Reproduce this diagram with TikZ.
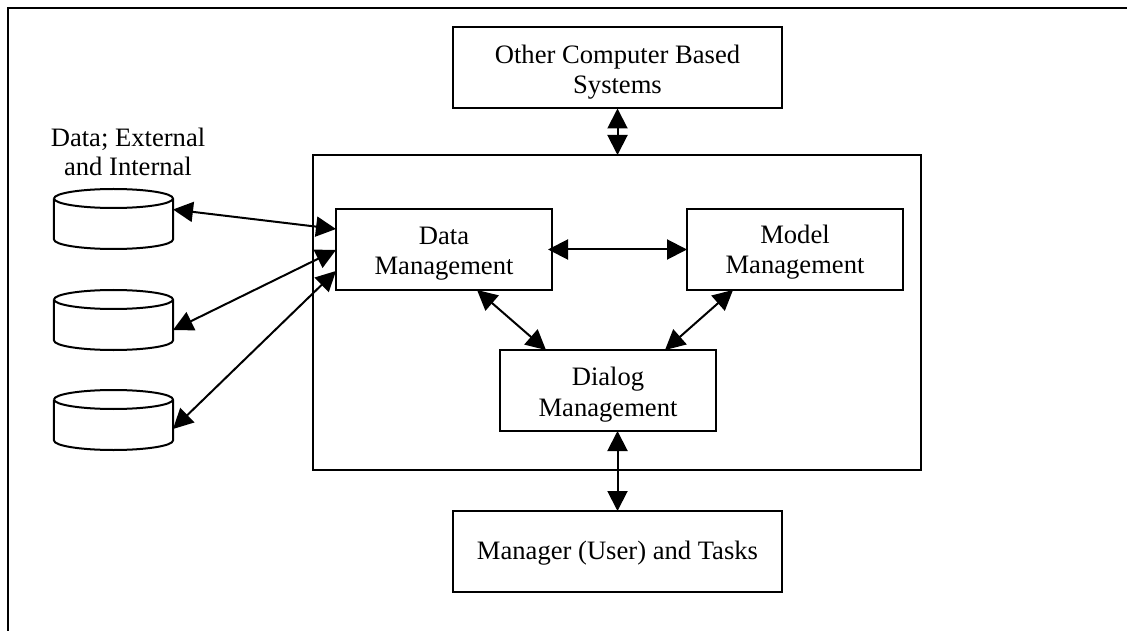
\documentclass[tikz,border=0pt]{standalone}
\usepackage{fontspec}
\setmainfont{Liberation Serif}
\usetikzlibrary{arrows.meta,calc}
\tikzset{
  boxnode/.style={draw=black,line width=2bp,fill=white,outer sep=0pt,inner sep=0pt,minimum width=#1,minimum height=81bp},
  boxnode/.default=216bp,
  boxtext/.style={align=center,inner sep=0pt,font=\fontsize{26.6bp}{30.6bp}\selectfont,yshift=-4bp},
  store/.style={outer sep=0pt,inner sep=0pt,minimum height=60bp,minimum width=119bp},
  storeline/.style={draw=black,line width=2bp,line join=round},
  link/.style={line width=2bp,{Triangle[length=20bp,width=20bp]}-{Triangle[length=20bp,width=20bp]}}
}
\begin{document}
\begin{tikzpicture}[x=1bp,y=-1bp]
\useasboundingbox (0,0) rectangle (1127,631);
\draw[line width=2bp,line cap=butt] (1127,8) -- (8,8) -- (8,631);
\node[boxnode=329bp,label={[boxtext]center:Other Computer Based\\Systems}] (other) at (617.5,68) {};
\node[draw=black,line width=2bp,outer sep=0pt,inner sep=0pt,minimum width=608bp,minimum height=315bp] (core) at (617,312.5) {};
\node[boxnode,label={[boxtext]center:Data\\Management}] (data) at (444,249.5) {};
\node[boxnode,label={[boxtext,yshift=1.5bp]center:Model\\Management}] (model) at (795,249.5) {};
\node[boxnode,label={[boxtext]center:Dialog\\Management}] (dialog) at (608,390.5) {};
\node[boxnode=329bp,label={[boxtext,yshift=2.5bp]center:Manager (User) and Tasks}] (manager) at (617.5,551.5) {};
\node[store] (s1) at (113.5,219) {};
\node[store] (s2) at (113.5,320) {};
\node[store] (s3) at (113.5,420) {};
\foreach \s in {s1,s2,s3}{
  \draw[storeline] ($(\s.north west)+(0,9.5)$) arc[start angle=180,end angle=-180,x radius=59.5bp,y radius=9.5bp];
  \draw[storeline] ($(\s.north west)+(0,9.5)$) -- ($(\s.south west)+(0,-9.5)$) arc[start angle=180,end angle=360,x radius=59.5bp,y radius=9.5bp] -- ($(\s.north east)+(0,9.5)$);
}
\node[align=center,inner sep=0pt,font=\fontsize{26.6bp}{29.5bp}\selectfont] (dlabel) at (128,152) {Data; External\\and Internal\hspace{14bp}};
\draw[link] (other.south) -- (other.south|-core.north);
\draw[link] (dialog.south-|manager.north) -- (manager.north);
\draw[link] ($(data.east)+(-4,0)$) -- (model.west);
\draw[link] ($(data.south west)!0.653!(data.south east)$) -- ($(dialog.north west)!0.213!(dialog.north east)$);
\draw[link] ($(model.south west)!0.213!(model.south east)$) -- ($(dialog.north west)!0.764!(dialog.north east)$);
\draw[link] ($(s1.center)+(59.5,-9.5)$) -- ($(data.north west)!0.247!(data.south west)$);
\draw[link] ($(s2.center)+(59.5,10)$) -- ($(data.north west)!0.506!(data.south west)$);
\draw[link] ($(s3.center)+(59.5,9)$) -- ($(data.north west)!0.765!(data.south west)$);
\end{tikzpicture}
\end{document}
